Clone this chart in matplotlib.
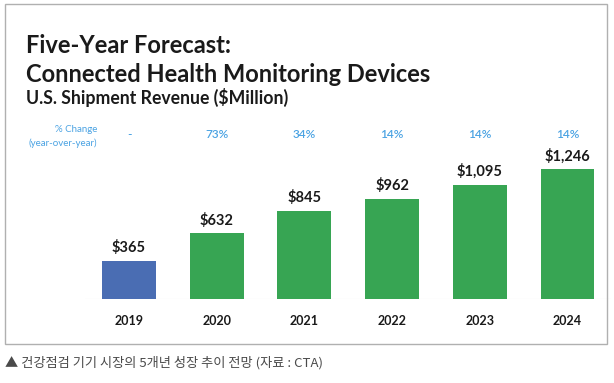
import matplotlib
matplotlib.use("Agg")
import matplotlib.pyplot as plt
from matplotlib.patches import Rectangle

years = ["2019", "2020", "2021", "2022", "2023", "2024"]
revenue = [365, 632, 845, 962, 1095, 1246]
value_labels = ["$365", "$632", "$845", "$962", "$1,095", "$1,246"]
pct_change = ["-", "73%", "34%", "14%", "14%", "14%"]
bar_colors = ["#4a6db3", "#37a553", "#37a553", "#37a553", "#37a553", "#37a553"]

W, H = 614, 383
fig = plt.figure(figsize=(W / 100, H / 100), dpi=100)
fig.patch.set_facecolor("white")

# axes in pixel layout
x_unit = 87.7
left_px = 129 - 0.5 * x_unit
base_px = 299
ymax = 1500
px_per_val = 130 / 1246
ax_h = ymax * px_per_val
ax = fig.add_axes([left_px / W, (H - base_px) / H, 6 * x_unit / W, ax_h / H])
ax.set_xlim(-0.5, 5.5)
ax.set_ylim(0, ymax)
ax.axis("off")

xs = list(range(len(years)))
ax.bar(xs, revenue, width=0.615, color=bar_colors, zorder=2)
ax.axhline(0, color="#dddddd", lw=0.8, zorder=1)

bold = dict(family=["Lato", "DejaVu Sans"], weight="bold", color="#1a1a1a")
for x, v, lab in zip(xs, revenue, value_labels):
    ax.annotate(lab, (x, v), xytext=(0, 4), textcoords="offset points",
                ha="center", va="bottom", fontsize=10.5, **bold)

# year labels
for x, y in zip(xs, years):
    ax.annotate(y, (x, 0), xytext=(0, -22), textcoords="offset pixels",
                ha="center", va="center", fontsize=9, **bold)

# percent change row
pct_color = "#4ba3e3"
pct_y_px = 135
for x, p in zip(xs, pct_change):
    fx = (left_px + (x + 0.5) * x_unit) / W
    fig.text(fx, 1 - pct_y_px / H, p, ha="center", va="center", fontsize=8.5,
             color=pct_color, family=["Lato", "DejaVu Sans"], weight="semibold")
fig.text(97 / W, 1 - 129 / H, "% Change", ha="right", va="center", fontsize=7,
         color=pct_color, family=["Lato", "DejaVu Sans"])
fig.text(97 / W, 1 - 143 / H, "(year-over-year)", ha="right", va="center", fontsize=7,
         color=pct_color, family=["Lato", "DejaVu Sans"])

# titles
fig.text(26 / W, 1 - 53 / H, "Five-Year Forecast:", ha="left", va="baseline",
         fontsize=17, **bold)
fig.text(26 / W, 1 - 82 / H, "Connected Health Monitoring Devices", ha="left",
         va="baseline", fontsize=17, **bold)
fig.text(26 / W, 1 - 104 / H, "U.S. Shipment Revenue ($Million)", ha="left",
         va="baseline", fontsize=12.7, **bold)

# border
fig.patches.append(Rectangle((5 / W, 1 - 344 / H), 602 / W, 340 / H,
                             transform=fig.transFigure, fill=False,
                             edgecolor="#b0b0b0", lw=1))

# caption
fig.text(5 / W, 1 - 363 / H, "▲ 건강점검 기기 시장의 5개년 성장 추이 전망 (자료 : CTA)",
         ha="left", va="center", fontsize=9.5, color="#4a4a4a",
         family=["Noto Sans CJK KR", "DejaVu Sans"])

fig.savefig("out.png", dpi=100, facecolor="white")
